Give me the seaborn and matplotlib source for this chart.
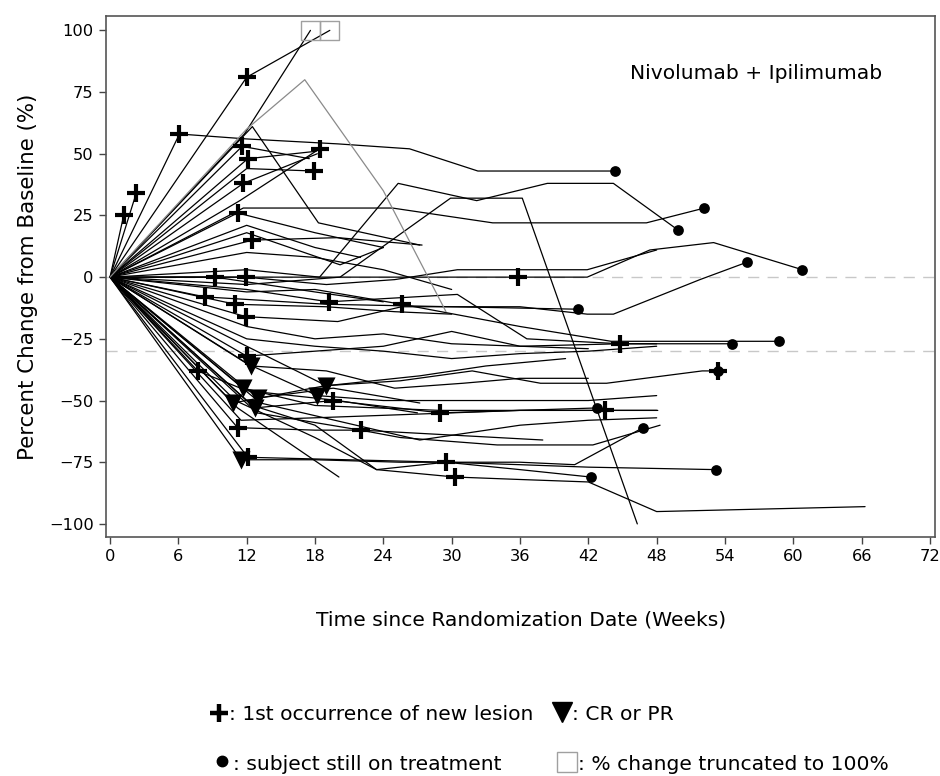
import matplotlib
matplotlib.use("Agg")
import matplotlib.pyplot as plt
import seaborn as sns
import pandas as pd
from matplotlib.lines import Line2D

# ---------------- data (weeks, % change from baseline) ----------------
subj_weeks = [
    [0, 12, 19.3],
    [0, 11.8, 17.6],
    [0, 6.1, 12, 20, 26.3, 32.3, 44.3],
    [0, 12, 17.1, 24, 29.5],
    [0, 12.5, 18.3, 27.2],
    [0, 12, 18.4, 25.3, 32.2, 38.4, 44.2, 49.9],
    [0, 12, 20.2, 29.9, 36.2, 46.3],
    [0, 12, 17.9],
    [0, 11.4, 18.4],
    [0, 11.7, 18.2],
    [0, 11.7, 24.8, 33.6, 47.1, 52.2],
    [0, 11.6, 17.5],
    [0, 12.1, 18.1],
    [0, 11.2, 18, 24],
    [0, 12.5, 20, 27.4],
    [0, 1.2],
    [0, 2.3],
    [0, 12, 20.2, 24],
    [0, 12, 18, 24, 30],
    [0, 12, 18, 22],
    [0, 9.2, 18, 24],
    [0, 12, 18, 24, 30, 35.8, 41.9, 47.4, 53, 60.8],
    [0, 11.9, 19, 25, 30.5, 41.9, 48],
    [0, 8.3, 19, 30, 41.1],
    [0, 11, 19, 25, 30],
    [0, 12, 19.2, 30.5, 36.6, 44.8, 54.6],
    [0, 11.9, 20, 25.6, 36, 41.9, 44.2, 51.8, 55.9],
    [0, 12, 18, 25.6, 36, 44, 58.7],
    [0, 12, 18, 24, 30, 36, 44.8, 48],
    [0, 12, 18, 24, 30, 36, 42, 48],
    [0, 12.4, 19, 25, 31, 36, 42],
    [0, 12, 24, 30, 36, 42],
    [0, 7.7, 12, 20, 27],
    [0, 10.8, 18.9, 25.5, 31.8, 37.8, 43.6, 52, 53.4],
    [0, 12, 19, 27.2, 33, 40],
    [0, 12, 18.2, 24, 36, 42, 48],
    [0, 13, 19.6, 27.2],
    [0, 12.7, 19.6, 29, 42.8],
    [0, 11.7, 18, 29, 36, 43.5, 48.1],
    [0, 11.5, 18, 24, 30, 36, 43.5, 48],
    [0, 11.2, 18, 22, 30, 38],
    [0, 12.9, 22, 25.5, 34, 42.4, 48.3],
    [0, 11.5, 18, 25.5, 36, 40.8, 46.8],
    [0, 12.1, 29.5, 36, 42, 53.2],
    [0, 11, 18, 23.4, 29.5, 36, 42.2],
    [0, 11.2, 20.1],
    [0, 12.5, 18, 23.4, 30.3, 36, 42, 48, 66.3],
    [0, 13.2, 27.2, 36, 42, 48],
]
subj_pct = [
    [0, 81, 100],
    [0, 58, 100],
    [0, 58, 56, 54, 52, 43, 43],
    [0, 60, 80, 35, -14],
    [0, 61, 22, 13],
    [0, 3, 0, 38, 31, 38, 38, 19],
    [0, -3, 0, 32, 32, -100],
    [0, 44, 43],
    [0, 31, 52],
    [0, 38, 50],
    [0, 28, 28, 22, 22, 28],
    [0, 53, 48],
    [0, 48, 51],
    [0, 26, 18, 12],
    [0, 15, 16, 13],
    [0, 25],
    [0, 34],
    [0, 18, 5, 12],
    [0, 10, 8, 3, -5],
    [0, 21, 12, 8],
    [0, 0, -6, -10],
    [0, 0, 0, 0, 0, 0, 0, 11, 14, 3],
    [0, 0, -3, -1, 3, 3, 11],
    [0, -8, -11, -12, -13],
    [0, -11, -12, -14, -15],
    [0, -5, -10, -7, -25, -27, -27],
    [0, -16, -18, -12, -12, -15, -15, -1, 6],
    [0, -6, -5, -11, -20, -26, -26],
    [0, -20, -25, -23, -27, -28, -27, -27],
    [0, -25, -28, -30, -33, -31, -30, -28],
    [0, -36, -38, -45, -43, -41, -41],
    [0, -32, -28, -22, -28, -29],
    [0, -38, -46, -50, -55],
    [0, -51, -44, -42, -38, -43, -43, -38, -38],
    [0, -28, -44, -40, -36, -33],
    [0, -35, -48, -50, -50, -50, -48],
    [0, -49, -45, -51],
    [0, -53, -50, -55, -53],
    [0, -45, -52, -54, -54, -54, -54],
    [0, -58, -57, -56, -55, -54, -54, -54],
    [0, -61, -62, -62, -64, -66],
    [0, -55, -62, -65, -68, -68, -60],
    [0, -74, -74, -75, -75, -76, -61],
    [0, -73, -75, -76, -77, -78],
    [0, -50, -65, -78, -75, -78, -81],
    [0, -53, -81],
    [0, -52, -60, -78, -81, -82, -83, -95, -93],
    [0, -51, -66, -60, -58, -57],
]
gray_subjects = [3]

lesion_week = [12, 6.1, 11.6, 12.1, 11.7, 11.2, 12.5, 18.4, 17.9, 1.2, 2.3, 9.2, 11.9, 35.8,
               8.3, 11, 11.9, 19.2, 25.6, 44.8, 7.7, 12, 19.6, 29, 43.5, 11.2, 22, 12.1,
               29.5, 30.3, 53.4]
lesion_pct = [81, 58, 53, 48, 38, 26, 15, 52, 43, 25, 34, 0, 0, 0,
              -8, -11, -16, -10, -11, -27, -38, -32, -50, -55, -54, -61, -62, -73,
              -75, -81, -38]

resp_week = [12.4, 11.7, 10.8, 13, 12.7, 19, 18.2, 11.5]
resp_pct = [-36, -45, -51, -49, -53, -44, -48, -74]

ontx_week = [44.3, 52.2, 49.9, 55.9, 60.8, 41.1, 54.6, 58.7, 42.8, 46.8, 42.2, 53.2, 53.4]
ontx_pct = [43, 28, 19, 6, 3, -13, -27, -26, -53, -61, -81, -78, -38]

trunc_week = [17.6, 19.3]
trunc_pct = [100, 100]

x_ticks = list(range(0, 73, 6))
y_ticks = [-100, -75, -50, -25, 0, 25, 50, 75, 100]

# ---------------- build tables ----------------
rows = []
for i, (ws, ps) in enumerate(zip(subj_weeks, subj_pct)):
    for w, p in zip(ws, ps):
        rows.append({"subject": i, "week": w, "pct": p, "gray": i in gray_subjects})
df = pd.DataFrame(rows)

sns.set_theme(style="white")
plt.rcParams["font.family"] = ["DejaVu Sans"]
plt.rcParams["text.color"] = "black"
plt.rcParams["axes.labelcolor"] = "black"
plt.rcParams["xtick.color"] = "black"
plt.rcParams["ytick.color"] = "black"

LBL = 14.6
TCK = 11.7

fig = plt.figure(figsize=(9.4, 7.76), dpi=100)
ax = fig.add_axes([0.1128, 0.308, 0.882, 0.671])

# reference lines
ax.axhline(0, color="#c8c8c8", lw=1, ls=(0, (8, 6)), zorder=1)
ax.axhline(-30, color="#c8c8c8", lw=1, ls=(0, (8, 6)), zorder=1)

sns.lineplot(data=df[~df["gray"]], x="week", y="pct", units="subject", estimator=None,
             sort=False, color="black", lw=0.9, ax=ax, legend=False, zorder=2)
sns.lineplot(data=df[df["gray"]], x="week", y="pct", units="subject", estimator=None,
             sort=False, color="#8a8a8a", lw=0.9, ax=ax, legend=False, zorder=2)

sns.scatterplot(x=lesion_week, y=lesion_pct, marker="+", s=160, linewidth=3,
                color="black", ax=ax, zorder=4, legend=False)
sns.scatterplot(x=resp_week, y=resp_pct, marker="v", s=170, linewidth=0,
                color="black", ax=ax, zorder=4, legend=False)
sns.scatterplot(x=ontx_week, y=ontx_pct, marker="o", s=60, linewidth=0,
                color="black", ax=ax, zorder=4, legend=False)
sns.scatterplot(x=trunc_week, y=trunc_pct, marker="s", s=190, linewidth=1,
                facecolor="none", edgecolor="#a0a0a0", ax=ax, zorder=4, legend=False)

ax.set_xlim(-0.35, 72.45)
ax.set_ylim(-105.3, 105.7)
ax.set_xticks(x_ticks)
ax.set_yticks(y_ticks)
ax.tick_params(axis="both", which="both", direction="out", length=5, width=1,
               color="#444444", labelsize=TCK, pad=4, bottom=True, left=True,
               labelcolor="black")
for s in ax.spines.values():
    s.set_color("#555555")
    s.set_linewidth(1.2)

ax.set_xlabel("Time since Randomization Date (Weeks)", fontsize=LBL, labelpad=33,
              color="black")
ax.set_ylabel("Percent Change from Baseline (%)", fontsize=15.4, labelpad=8,
              color="black")
ax.text(56.7, 82.6, "Nivolumab + Ipilimumab", ha="center", va="center", fontsize=LBL,
        color="black")

# ---------------- custom legend below ----------------
def fig_marker(x, y, marker, size, **kw):
    fig.add_artist(Line2D([x / 940], [1 - y / 776], marker=marker, markersize=size,
                          linestyle="none", transform=fig.transFigure, **kw))

fig_marker(219, 713, "+", 13, color="black", markeredgewidth=3.2)
fig.text(229 / 940, 1 - 715 / 776, ": 1st occurrence of new lesion", fontsize=LBL,
         va="center", ha="left", color="black")
fig_marker(562, 712, "v", 14, color="black")
fig.text(572 / 940, 1 - 715 / 776, ": CR or PR", fontsize=LBL, va="center", ha="left",
         color="black")
fig_marker(222, 761, "o", 7.5, color="black")
fig.text(233 / 940, 1 - 765 / 776, ": subject still on treatment", fontsize=LBL,
         va="center", ha="left", color="black")
fig_marker(567, 762, "s", 14, markerfacecolor="none", markeredgecolor="#a0a0a0",
           markeredgewidth=1)
fig.text(578 / 940, 1 - 765 / 776, ": % change truncated to 100%", fontsize=LBL,
         va="center", ha="left", color="black")

fig.savefig("out.png", dpi=100)
